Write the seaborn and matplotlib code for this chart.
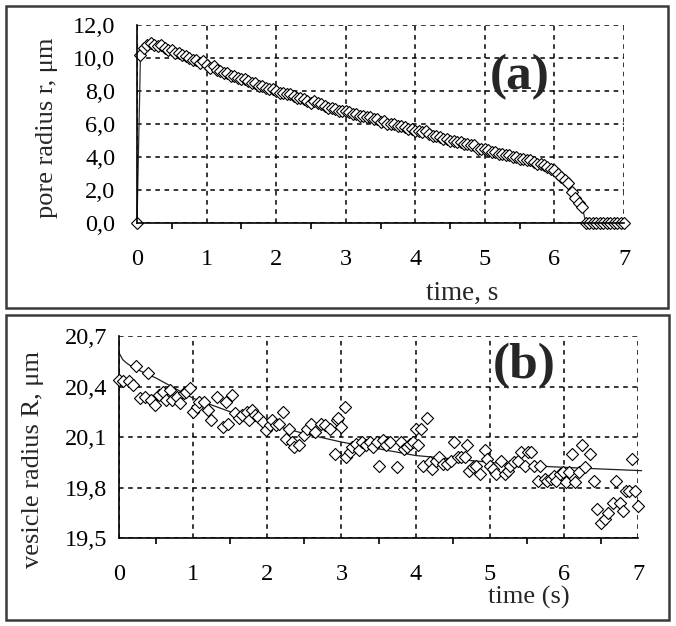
import numpy as np
import matplotlib
matplotlib.use("Agg")
import matplotlib.pyplot as plt
from matplotlib.patches import Rectangle
from matplotlib.ticker import FuncFormatter
import seaborn as sns

# (a) pore radius, sampled every 0.05 s
t_pore = np.round(np.arange(0, 7.001, 0.05), 2)
r_pore = [
    0.0, 10.2, 10.6, 10.8, 10.9, 10.8, 10.7, 10.8, 10.6, 10.5, 10.5, 10.3, 10.3, 10.2, 10.1, 10.0, 9.9, 9.9, 9.7, 9.8,
    9.6, 9.4, 9.5, 9.3, 9.2, 9.1, 9.1, 8.9, 8.9, 8.8, 8.7, 8.7, 8.6, 8.5, 8.5, 8.3, 8.3, 8.2, 8.1, 8.1,
    8.0, 7.9, 7.9, 7.8, 7.8, 7.7, 7.6, 7.6, 7.5, 7.4, 7.3, 7.4, 7.3, 7.2, 7.1, 7.0, 7.0, 6.9, 6.8, 6.8,
    6.8, 6.7, 6.6, 6.6, 6.5, 6.5, 6.4, 6.4, 6.3, 6.3, 6.1, 6.2, 6.0, 6.0, 6.0, 5.9, 5.9, 5.8, 5.7, 5.7,
    5.6, 5.6, 5.5, 5.6, 5.4, 5.3, 5.3, 5.2, 5.1, 5.1, 5.0, 5.0, 4.9, 4.9, 4.8, 4.8, 4.7, 4.7, 4.5, 4.5,
    4.5, 4.4, 4.3, 4.3, 4.2, 4.2, 4.1, 4.1, 4.0, 4.0, 3.9, 3.9, 3.8, 3.8, 3.7, 3.6, 3.6, 3.5, 3.4, 3.3,
    3.2, 3.0, 2.8, 2.6, 2.4, 1.9, 1.5, 1.2, 1.0, 0.0, 0.0, 0.0, 0.0, 0.0, 0.0, 0.0, 0.0, 0.0, 0.0, 0.0,
    0.0,
]

# (b) vesicle radius, measured points
t_ves = [
    0.00, 0.06, 0.13, 0.19, 0.23, 0.28, 0.35, 0.39, 0.43, 0.49, 0.54, 0.60, 0.64, 0.69, 0.72, 0.78, 0.82, 0.87,
    0.91, 0.96, 1.00, 1.05, 1.08, 1.14, 1.20, 1.24, 1.32, 1.40, 1.44, 1.47, 1.52, 1.56, 1.62, 1.66, 1.72, 1.76,
    1.79, 1.83, 1.88, 1.94, 1.98, 2.03, 2.07, 2.12, 2.16, 2.21, 2.25, 2.29, 2.33, 2.36, 2.43, 2.50, 2.54, 2.59,
    2.64, 2.72, 2.78, 2.85, 2.91, 2.94, 2.95, 2.99, 3.05, 3.06, 3.11, 3.14, 3.20, 3.24, 3.28, 3.33, 3.39, 3.43,
    3.48, 3.51, 3.56, 3.60, 3.65, 3.75, 3.80, 3.84, 3.88, 3.92, 3.97, 4.00, 4.03, 4.07, 4.10, 4.15, 4.19, 4.22,
    4.27, 4.32, 4.37, 4.42, 4.48, 4.52, 4.57, 4.61, 4.66, 4.69, 4.72, 4.77, 4.82, 4.87, 4.93, 4.97, 5.00, 5.04,
    5.09, 5.15, 5.20, 5.24, 5.27, 5.33, 5.38, 5.42, 5.47, 5.51, 5.56, 5.60, 5.65, 5.68, 5.74, 5.77, 5.83, 5.87,
    5.90, 5.95, 5.99, 6.03, 6.07, 6.11, 6.15, 6.20, 6.24, 6.28, 6.35, 6.40, 6.45, 6.50, 6.55, 6.60, 6.66, 6.71,
    6.76, 6.80, 6.84, 6.88, 6.92, 6.96, 7.00,
]
r_ves = [
    20.44, 20.43, 20.43, 20.41, 20.52, 20.33, 20.34, 20.48, 20.32, 20.29, 20.35, 20.37, 20.32, 20.38, 20.32, 20.34, 20.30, 20.36,
    20.37, 20.39, 20.25, 20.28, 20.31, 20.31, 20.26, 20.20, 20.34, 20.16, 20.31, 20.18, 20.35, 20.24, 20.21, 20.23, 20.25, 20.20,
    20.26, 20.23, 20.22, 20.19, 20.14, 20.17, 20.20, 20.17, 20.18, 20.25, 20.09, 20.15, 20.07, 20.04, 20.05, 20.11, 20.15, 20.18,
    20.13, 20.18, 20.17, 20.15, 20.00, 20.20, 20.21, 20.16, 20.28, 19.98, 20.01, 20.04, 20.06, 20.02, 20.07, 20.05, 20.07, 20.04,
    20.07, 19.93, 20.08, 20.05, 20.07, 19.92, 20.07, 20.03, 20.04, 20.06, 20.07, 20.15, 20.05, 20.15, 19.93, 20.21, 19.95, 19.91,
    19.96, 19.98, 19.94, 19.94, 19.96, 20.07, 19.98, 19.98, 19.98, 20.05, 19.90, 19.92, 19.93, 19.88, 20.02, 19.97, 19.93, 19.91,
    19.88, 19.96, 19.88, 19.90, 19.93, 19.95, 19.96, 20.01, 19.93, 20.01, 20.01, 19.93, 19.84, 19.93, 19.85, 19.84, 19.85, 19.87,
    19.84, 19.88, 19.89, 19.83, 19.89, 20.00, 19.83, 19.89, 20.05, 19.92, 20.00, 19.84, 19.67, 19.59, 19.61, 19.65, 19.71, 19.84,
    19.71, 19.66, 19.78, 19.78, 19.97, 19.78, 19.69,
]

# (b) fitted curve
t_fit = [0.0, 0.05, 0.1, 0.2, 0.3, 0.5, 0.75, 1.0, 1.25, 1.5, 1.75, 2.0, 2.5, 3.0, 3.5, 4.0, 4.5, 5.0, 5.5, 6.0, 6.5, 7.05]
r_fit = [20.60, 20.56, 20.54, 20.51, 20.49, 20.45, 20.39, 20.33, 20.29, 20.25, 20.21, 20.18, 20.12, 20.07, 20.03,
         19.99, 19.97, 19.95, 19.93, 19.92, 19.91, 19.90]

sns.set_style("white")
plt.rcParams["font.family"] = ["Liberation Serif", "DejaVu Serif"]

fig = plt.figure(figsize=(6.76, 6.26), dpi=100)
W, H = 676, 626

# panel frames
fig.add_artist(Rectangle((6 / W, 1 - 308 / H), 662 / W, 302 / H, transform=fig.transFigure,
                         fill=False, ec="#3a3a3a", lw=1.8))
fig.add_artist(Rectangle((6 / W, 1 - 620 / H), 663 / W, 305 / H, transform=fig.transFigure,
                         fill=False, ec="#3a3a3a", lw=1.8))

ax1 = fig.add_axes([137 / W, 1 - 223 / H, 487 / W, 198 / H])
ax2 = fig.add_axes([119 / W, 1 - 538 / H, 519 / W, 202 / H])

comma = FuncFormatter(lambda v, p: f"{v:.1f}".replace(".", ","))


def style_axes(ax, ylim, yticks, ypad):
    ax.set_xlim(0, 7)
    ax.set_ylim(*ylim)
    ax.set_xticks(range(8))
    ax.set_xticks(np.arange(0.5, 7, 1), minor=True)
    ax.set_yticks(yticks)
    ax.yaxis.set_major_formatter(comma)
    ax.set_axisbelow(True)
    ax.grid(True, which="major", color="black", linestyle=(0, (3, 3)), linewidth=1.1)
    ax.spines["top"].set_visible(False)
    ax.spines["right"].set_visible(False)
    for s in ("left", "bottom"):
        ax.spines[s].set_color("black")
        ax.spines[s].set_linewidth(1.2)
    ax.tick_params(axis="both", which="major", direction="inout", length=7, width=1.2,
                   color="black", labelsize=17.5, labelcolor="black")
    ax.tick_params(axis="x", which="major", pad=15)
    ax.tick_params(axis="y", which="major", pad=ypad)
    ax.tick_params(axis="x", which="minor", direction="out", length=4, width=1.2, color="black",
                   bottom=True)
    ax.tick_params(axis="y", which="minor", left=False)


# panel (a)
style_axes(ax1, (0, 12), np.arange(0, 12.1, 2), 12)
sns.lineplot(x=t_pore, y=r_pore, ax=ax1, color="#303030", lw=0.9, marker="D", markersize=6.2,
             markerfacecolor="white", markeredgecolor="black", markeredgewidth=0.8,
             estimator=None, sort=False, clip_on=False)
ax1.set_xlabel("time, s", fontsize=19.5)
ax1.xaxis.set_label_coords(0.667, -0.29)
ax1.set_ylabel("pore radius r, \u03bcm", fontsize=19, va="center")
ax1.yaxis.set_label_coords(-0.185, 0.48)
ax1.text(0.786, 0.737, "(a)", transform=ax1.transAxes, fontsize=37, fontweight="bold",
         ha="center", va="center")

# panel (b)
style_axes(ax2, (19.5, 20.7), [19.5, 19.8, 20.1, 20.4, 20.7], 5)
sns.scatterplot(x=t_ves, y=r_ves, ax=ax2, marker="D", s=38, color="white", edgecolor="black",
                linewidth=0.8, clip_on=False, zorder=3)
sns.lineplot(x=t_fit, y=r_fit, ax=ax2, color="#202020", lw=0.9, clip_on=False, zorder=2)
ax2.set_xlabel("time (s)", fontsize=19)
ax2.xaxis.set_label_coords(0.79, -0.235)
ax2.set_ylabel("vesicle radius R, \u03bcm", fontsize=19, va="center")
ax2.yaxis.set_label_coords(-0.165, 0.39)
ax2.text(0.78, 0.85, "(b)", transform=ax2.transAxes, fontsize=37, fontweight="bold",
         ha="center", va="center")

fig.savefig("out.png", dpi=100)
